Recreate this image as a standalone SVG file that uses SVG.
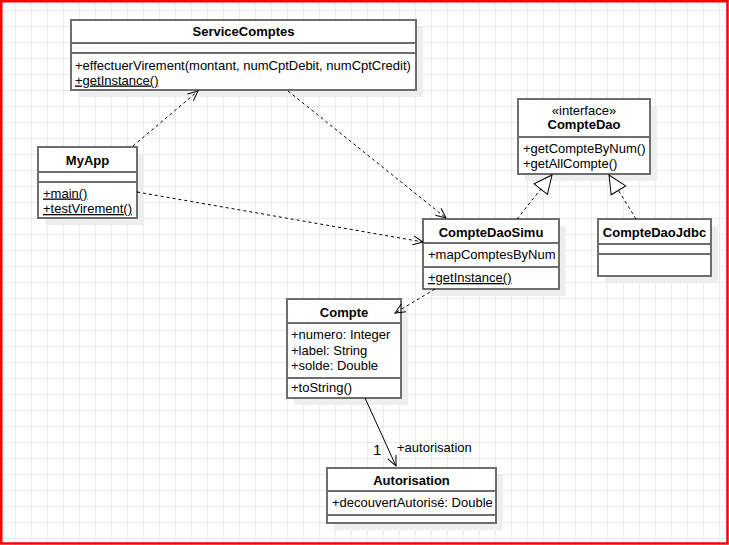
<svg xmlns="http://www.w3.org/2000/svg" width="729" height="545" viewBox="0 0 729 545">
<style>
.box{fill:#fff;stroke:#6e6e6e;stroke-width:2}
.sh{fill:#eeeeee}
.sep{stroke:#6e6e6e;stroke-width:2;fill:none}
.t{font-family:"Liberation Sans",Arial,sans-serif;font-size:13px;fill:#000}
.b{font-weight:bold;text-anchor:middle}
.c{text-anchor:middle}
.u{text-decoration:underline}
.dep{fill:none;stroke:#000;stroke-width:1;stroke-dasharray:3 3}
.sol{fill:none;stroke:#000;stroke-width:1}
</style>
<defs>
<pattern id="grid" patternUnits="userSpaceOnUse" x="-1" y="10" width="16" height="16">
<path d="M0.5 0V16M0 0.5H16" stroke="#ebebeb" stroke-width="1" fill="none"/>
</pattern>
<marker id="open" markerUnits="userSpaceOnUse" viewBox="0 0 12 12" refX="11" refY="6" markerWidth="12" markerHeight="12" orient="auto">
<path d="M1,1.5 L11,6 L1,10.5" fill="none" stroke="#000" stroke-width="1"/>
</marker>
<marker id="tri" markerUnits="userSpaceOnUse" viewBox="0 0 20 19" refX="19" refY="9.5" markerWidth="20" markerHeight="19" orient="auto">
<path d="M1,1 L19,9.5 L1,18 Z" fill="#fff" stroke="#000" stroke-width="1"/>
</marker>
</defs>
<rect x="0" y="0" width="729" height="545" fill="#fff"/>
<rect x="0" y="0" width="729" height="545" fill="url(#grid)"/>

<g id="ServiceComptes">
<rect class="sh" x="78" y="27" width="345" height="70"/>
<rect class="box" x="71" y="20" width="345" height="70"/>
<path class="sep" d="M71,43H416M71,53H416"/>
<text class="t b" x="243.5" y="36">ServiceComptes</text>
<text class="t" x="75" y="69.5">+effectuerVirement(montant, numCptDebit, numCptCredit)</text>
<text class="t u" x="75" y="84.5">+getInstance()</text>
</g>

<g id="MyApp">
<rect class="sh" x="45" y="154" width="99" height="71"/>
<rect class="box" x="38" y="147" width="99" height="71"/>
<path class="sep" d="M38,172H137M38,182H137"/>
<text class="t b" x="87.5" y="164.5">MyApp</text>
<text class="t u" x="43" y="197.5">+main()</text>
<text class="t u" x="43" y="213">+testVirement()</text>
</g>

<g id="CompteDao">
<rect class="sh" x="525" y="106" width="132" height="75"/>
<rect class="box" x="518" y="99" width="132" height="75"/>
<path class="sep" d="M518,137H650"/>
<text class="t c" x="584" y="115">«interface»</text>
<text class="t b" x="584" y="129">CompteDao</text>
<text class="t" x="523" y="152.5">+getCompteByNum()</text>
<text class="t" x="523" y="167.5">+getAllCompte()</text>
</g>

<g id="CompteDaoSimu">
<rect class="sh" x="430" y="226" width="136" height="70"/>
<rect class="box" x="423" y="219" width="136" height="70"/>
<path class="sep" d="M423,243H559M423,267H559"/>
<text class="t b" x="491" y="236.5">CompteDaoSimu</text>
<text class="t" x="428" y="259">+mapComptesByNum</text>
<text class="t u" x="428" y="282">+getInstance()</text>
</g>

<g id="CompteDaoJdbc">
<rect class="sh" x="605" y="226" width="113" height="57"/>
<rect class="box" x="598" y="219" width="113" height="57"/>
<path class="sep" d="M598,244H711M598,254H711"/>
<text class="t b" x="654.5" y="236.5">CompteDaoJdbc</text>
</g>

<g id="Compte">
<rect class="sh" x="294" y="306" width="114" height="99"/>
<rect class="box" x="287" y="299" width="114" height="99"/>
<path class="sep" d="M287,323H401M287,378H401"/>
<text class="t b" x="344" y="316.5">Compte</text>
<text class="t" x="291" y="339">+numero: Integer</text>
<text class="t" x="291" y="354.5">+label: String</text>
<text class="t" x="291" y="369.5">+solde: Double</text>
<text class="t" x="291" y="392">+toString()</text>
</g>

<g id="Autorisation">
<rect class="sh" x="334" y="475" width="169" height="55"/>
<rect class="box" x="327" y="468" width="169" height="55"/>
<path class="sep" d="M327,491H496M327,515H496"/>
<text class="t b" x="411.5" y="484.5">Autorisation</text>
<text class="t" x="332" y="507">+decouvertAutorisé: Double</text>
</g>

<g id="connectors">
<path class="dep" d="M133,146 L198,91" marker-end="url(#open)"/>
<path class="dep" d="M288,91 L446,218" marker-end="url(#open)"/>
<path class="dep" d="M137,192 L423,242" marker-end="url(#open)"/>
<path class="dep" d="M435,289 L395,313" marker-end="url(#open)"/>
<path class="sol" d="M365,398 L396,466" marker-end="url(#open)"/>
<path class="dep" d="M517,219 L552,175" marker-end="url(#tri)"/>
<path class="dep" d="M636,219 L609,175" marker-end="url(#tri)"/>
<text class="t" x="373" y="455" style="font-size:15px">1</text>
<text class="t" x="397" y="452">+autorisation</text>
</g>

<rect x="1.25" y="1.25" width="726.25" height="542.25" fill="none" stroke="#ff0000" stroke-width="2.5"/>
</svg>
